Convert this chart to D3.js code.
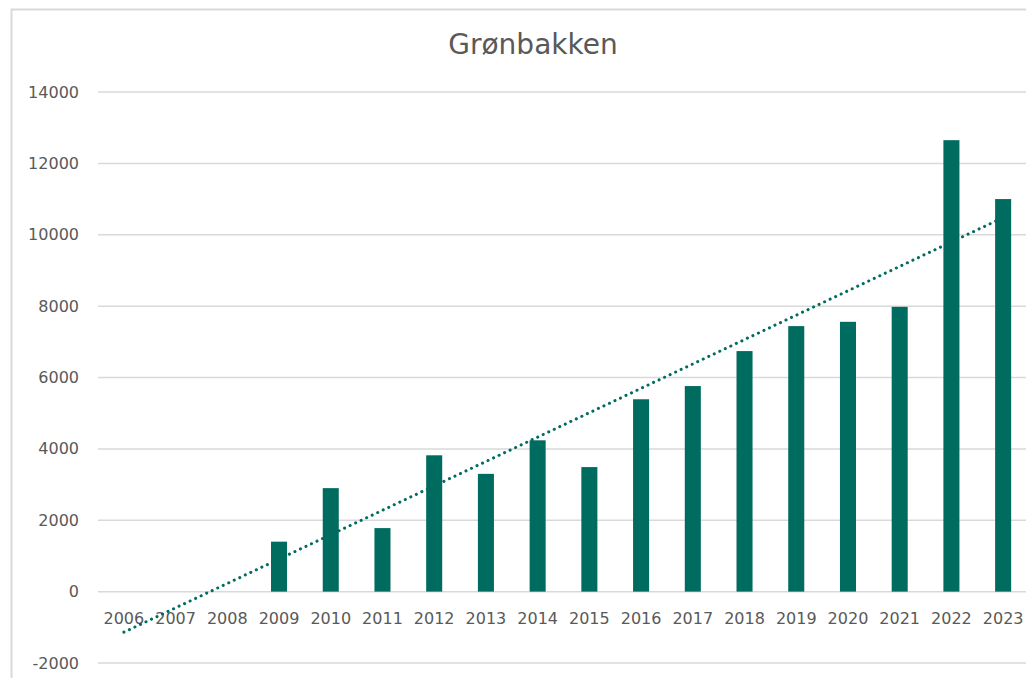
<!DOCTYPE html>
<html>
<head>
<meta charset="utf-8">
<script src="https://cdn.jsdelivr.net/npm/d3@7"></script>
<style>
  html, body { margin: 0; padding: 0; background: #fff; }
  svg { display: block; }
</style>
</head>
<body>
<svg width="1026" height="678"></svg>
<script>
// data
const years = ['2006','2007','2008','2009','2010','2011','2012','2013','2014','2015',
               '2016','2017','2018','2019','2020','2021','2022','2023']
const values = [null, null, null, 1400, 2900, 1780, 3820, 3300, 4240, 3490,
                5390, 5760, 6740, 7440, 7560, 7980, 12650, 11000]
const yTicks = [-2000, 0, 2000, 4000, 6000, 8000, 10000, 12000, 14000]
const title = 'Grønbakken'

const green = '#006b5f'
const grey = '#595959'

var svg = d3.select('svg')

// chart frame (only top and left edges are in view)
svg.append('path')
  .attr('d', 'M11.5,700 V9.5 H1040')
  .attr('fill', 'none')
  .attr('stroke', '#d9d9d9')
  .attr('stroke-width', 2)

var x = d3.scaleBand()
  .domain(years)
  .range([98, 1029])
  .paddingInner(0.69)
  .paddingOuter(0.345)

var y = d3.scaleLinear()
  .domain([-2000, 14000])
  .range([663, 92])

// gridlines
svg.append('g')
  .selectAll('line')
  .data(yTicks)
  .join('line')
    .attr('x1', 98)
    .attr('x2', 1026)
    .attr('y1', d => y(d))
    .attr('y2', d => y(d))
    .attr('stroke', '#d9d9d9')
    .attr('stroke-width', 1.5)

// y labels
svg.append('g')
  .selectAll('text')
  .data(yTicks)
  .join('text')
    .attr('x', 79)
    .attr('y', d => y(d))
    .attr('dy', '0.35em')
    .attr('text-anchor', 'end')
    .attr('font-family', 'DejaVu Sans')
    .attr('font-size', 16)
    .attr('fill', grey)
    .text(d => d)

// bars
svg.append('g')
  .selectAll('rect')
  .data(years.map((yr, i) => ({ yr, v: values[i] })).filter(d => d.v !== null))
  .join('rect')
    .attr('x', d => x(d.yr))
    .attr('width', x.bandwidth())
    .attr('y', d => y(d.v))
    .attr('height', d => y(0) - y(d.v))
    .attr('fill', green)

// x labels
svg.append('g')
  .selectAll('text')
  .data(years)
  .join('text')
    .attr('x', d => x(d) + x.bandwidth() / 2)
    .attr('y', 624)
    .attr('text-anchor', 'middle')
    .attr('font-family', 'DejaVu Sans')
    .attr('font-size', 16)
    .attr('fill', grey)
    .text(d => d)

// linear trendline over the years that have a value
const pts = values.map((v, i) => [i + 1, v]).filter(p => p[1] !== null)
const mx = d3.mean(pts, p => p[0])
const my = d3.mean(pts, p => p[1])
const slope = d3.sum(pts, p => (p[0] - mx) * (p[1] - my)) / d3.sum(pts, p => (p[0] - mx) ** 2)
const trend = i => my + slope * (i + 1 - mx)

svg.append('line')
  .attr('x1', x(years[0]) + x.bandwidth() / 2)
  .attr('y1', y(trend(0)))
  .attr('x2', x(years[years.length - 1]) + x.bandwidth() / 2)
  .attr('y2', y(trend(years.length - 1)))
  .attr('stroke', green)
  .attr('stroke-width', 3)
  .attr('stroke-linecap', 'round')
  .attr('stroke-dasharray', '0.1 6')

// title
svg.append('text')
  .attr('x', 533)
  .attr('y', 54)
  .attr('text-anchor', 'middle')
  .attr('font-family', 'DejaVu Sans')
  .attr('font-size', 28)
  .attr('fill', grey)
  .text(title)
</script>
</body>
</html>
